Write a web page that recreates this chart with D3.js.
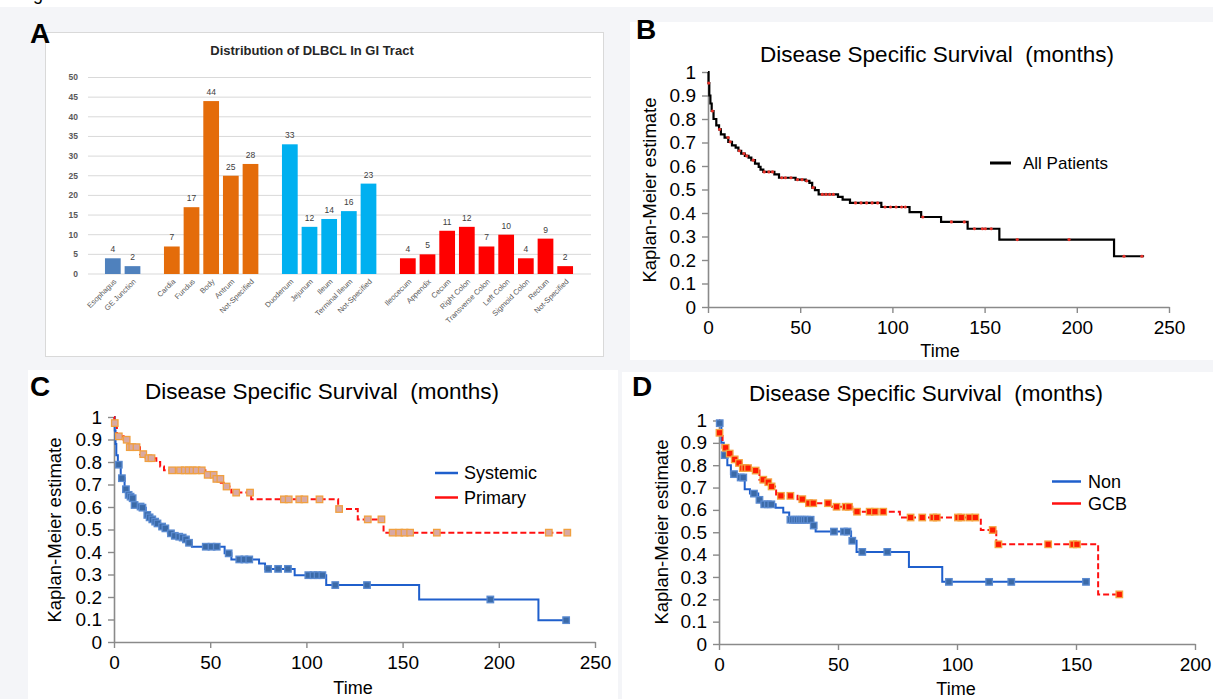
<!DOCTYPE html>
<html>
<head>
<meta charset="utf-8">
<script src="https://cdn.jsdelivr.net/npm/d3@7"></script>
<style>
  html, body { margin: 0; padding: 0; background: #ffffff; }
  svg { display: block; }
  text { font-family: "Liberation Sans", Arial, sans-serif; }
</style>
</head>
<body>
<svg id="fig" width="1213" height="699"></svg>
<script>
// ---------- Panel A: DLBCL sites along the GI tract ----------
const siteLabels = ["Esophagus", "GE Junction", "",
  "Cardia", "Fundus", "Body", "Antrum", "Not-Specified", "",
  "Duodenum", "Jejunum", "Ileum", "Terminal Ileum", "Not-Specified", "",
  "Ileocecum", "Appendix", "Cecum", "Right Colon", "Transverse Colon", "Left Colon",
  "Sigmoid Colon", "Rectum", "Not-Specified"];
const siteCounts = [4, 2, null,
  7, 17, 44, 25, 28, null,
  33, 12, 14, 16, 23, null,
  4, 5, 11, 12, 7, 10, 4, 9, 2];
const siteRegions = ["esophagus", "esophagus", null,
  "stomach", "stomach", "stomach", "stomach", "stomach", null,
  "small", "small", "small", "small", "small", null,
  "large", "large", "large", "large", "large", "large", "large", "large", "large"];
const countTicks = [0, 5, 10, 15, 20, 25, 30, 35, 40, 45, 50];

// ---------- Panel B: all patients ----------
const allTimes = [0, 0.3, 0.7, 1.3, 2, 3, 4.5, 6, 7, 9,
  11, 13, 15, 16.5, 18, 20, 22, 23.5, 25.5, 27.5,
  28.5, 30, 36, 38.5, 47.5, 53, 55, 56.5, 58, 60,
  70.5, 73, 77, 94, 109.3, 115.6, 126.4, 140.8, 158, 220.2];
const allSurv = [1, 0.953, 0.90, 0.866, 0.834, 0.80, 0.773, 0.756, 0.735, 0.721,
  0.703, 0.688, 0.678, 0.665, 0.653, 0.643, 0.636, 0.625, 0.61, 0.596,
  0.585, 0.575, 0.564, 0.55, 0.542, 0.537, 0.528, 0.508, 0.497, 0.479,
  0.469, 0.457, 0.443, 0.4255, 0.404, 0.383, 0.362, 0.333, 0.287, 0.216];
const allEnd = 236.5;
const allCensor = [0.4, 2.4, 6.3, 10.9, 12, 17, 19.5, 21, 24.5, 30.5, 33, 35, 40, 42, 45,
  48.5, 51, 53.5, 57, 62, 64, 66, 68, 80, 83, 86, 89, 92, 96, 99, 102, 105, 107,
  116.5, 132, 139, 144.5, 148.8, 150.4, 153.6, 167.7, 195.8, 225.6, 235.3];

// ---------- Panel C: systemic vs primary ----------
const sysTimes = [0, 0.4, 0.8, 1.2, 2, 3.5, 5.5, 7, 8, 9,
  10.2, 12, 14.3, 16.5, 18, 19.5, 21, 22, 24, 26,
  28, 31, 33, 35, 37, 38.5, 40.5, 57.5, 61, 75.4,
  78.5, 93.9, 110.3, 158.6, 220.6];
const sysSurv = [1, 0.94, 0.88, 0.83, 0.788, 0.728, 0.679, 0.654, 0.646, 0.639,
  0.609, 0.602, 0.597, 0.565, 0.554, 0.545, 0.535, 0.527, 0.513, 0.505,
  0.483, 0.472, 0.468, 0.464, 0.456, 0.441, 0.4235, 0.394, 0.367, 0.349,
  0.325, 0.297, 0.253, 0.189, 0.097];
const sysEnd = 235;
const sysCensor = [2.5, 4.1, 6.2, 7.6, 8.6, 9.7, 10.7, 13.8, 14.8, 17.3, 18.5, 19.9, 21.4,
  22.6, 25, 26.7, 29.6, 31.6, 33.9, 35.7, 37.4, 39, 47.7, 50.7, 53.4, 59.6, 65.1, 67.8,
  70.3, 80.1, 85.3, 90.4, 101, 103.7, 105.8, 108.3, 115, 131.5, 195.6, 235];

const primTimes = [0, 0.2, 1.5, 5, 7.5, 13.5, 16.5, 22, 24, 26,
  47.5, 52.5, 55.5, 57, 61, 71.3, 116.5, 126.7, 140.1];
const primSurv = [1, 0.973, 0.914, 0.899, 0.866, 0.835, 0.817, 0.80, 0.78, 0.763,
  0.743, 0.725, 0.708, 0.691, 0.664, 0.634, 0.591, 0.545, 0.486];
const primEnd = 235.6;
const primCensor = [0.4, 2.5, 6.6, 8.2, 9.5, 11.7, 15.2, 17.9, 19.5, 30.2, 34.3, 36.8, 38.8,
  40.9, 42.9, 45.6, 48.7, 51.8, 53.2, 55.3, 58.5, 63.5, 70.7, 88.3, 90.8, 96.3, 99, 106.8,
  117, 131.9, 139, 144.8, 148.3, 151, 153.9, 167.8, 226, 235.6];

// ---------- Panel D: non-GCB vs GCB ----------
const nonTimes = [0, 0.1, 1, 2, 3.5, 5, 8, 10.8, 13, 16.5,
  18, 23.8, 27, 29.5, 39.5, 40.6, 55.5, 57.8, 79.8, 93.8];
const nonSurv = [1, 0.988, 0.90, 0.845, 0.80, 0.76, 0.745, 0.692, 0.673, 0.645,
  0.625, 0.61, 0.588, 0.556, 0.53, 0.503, 0.462, 0.412, 0.345, 0.278];
const nonEnd = 154.2;
const nonCensor = [0.3, 2.4, 6.3, 9.1, 10.2, 14.7, 17, 19, 20.5, 22, 30, 31, 32, 33, 34, 35,
  36, 37, 38.5, 39.8, 48.3, 52.5, 54, 56, 60.2, 70.7, 96.6, 113.5, 122.8, 154.2];

const gcbTimes = [0, 0.1, 1.5, 3.5, 5.5, 7.5, 9.5, 14, 17, 19.5,
  21, 24, 33, 36, 47.5, 56, 76, 110, 116.5, 159.3];
const gcbSurv = [1, 0.945, 0.878, 0.852, 0.826, 0.81, 0.787, 0.776, 0.735, 0.724,
  0.705, 0.663, 0.648, 0.63, 0.614, 0.592, 0.566, 0.51, 0.446, 0.222];
const gcbEnd = 168.2;
const gcbCensor = [0.2, 2.8, 4.5, 6.6, 8.4, 10, 11, 12.2, 15.4, 18.6, 20.7, 22.1, 26, 30, 35,
  37.8, 39.6, 45.8, 49.4, 53.2, 54.6, 58, 63.3, 65.5, 69, 80.5, 85.4, 90, 91.5, 100.4, 101.8,
  105.2, 107.7, 115, 117.4, 138.3, 148.8, 150.4, 168.2];

const survTicks = [0, 0.1, 0.2, 0.3, 0.4, 0.5, 0.6, 0.7, 0.8, 0.9, 1];
const timeTicks250 = [0, 50, 100, 150, 200, 250];
const timeTicks200 = [0, 50, 100, 150, 200];

// ---------- drawing ----------
const svg = d3.select("#fig");

// page backdrop and panel cards
svg.append("rect").attr("x", 0).attr("y", 7).attr("width", 1213).attr("height", 692).attr("fill", "#f4f5f8");
svg.append("text").attr("x", 18).attr("y", 0).attr("font-size", 18).attr("fill", "#000").text("Figure 1");
svg.append("rect").attr("x", 630).attr("y", 22).attr("width", 583).attr("height", 338).attr("fill", "#fff");
svg.append("rect").attr("x", 28).attr("y", 370).attr("width", 590).attr("height", 329).attr("fill", "#fff");
svg.append("rect").attr("x", 622).attr("y", 372).attr("width", 591).attr("height", 327).attr("fill", "#fff");
svg.append("rect").attr("x", 45.5).attr("y", 32.5).attr("width", 558).attr("height", 324)
  .attr("fill", "#fff").attr("stroke", "#d9d9d9").attr("stroke-width", 1);

// panel letters
[["A", 30, 43], ["B", 636, 39], ["C", 30, 396], ["D", 632, 396]].forEach(([t, x, y]) => {
  svg.append("text").attr("x", x).attr("y", y).attr("font-size", 28).attr("font-weight", "bold")
    .attr("fill", "#000").text(t);
});

// ----- Panel A -----
(function drawBars() {
  const g = svg.append("g");
  const colors = { esophagus: "#4f81bd", stomach: "#e46c0a", small: "#00b0f0", large: "#ff0000" };
  const x = d3.scaleBand().domain(d3.range(siteLabels.length)).range([103, 575])
    .paddingInner(0.2).paddingOuter(0.1);
  const y = d3.scaleLinear().domain([0, 50]).range([274, 77.5]);

  g.append("text").attr("x", 312).attr("y", 55).attr("text-anchor", "middle")
    .attr("font-size", 13).attr("font-weight", "bold").attr("fill", "#262626")
    .text("Distribution of DLBCL In GI Tract");

  g.selectAll("line.grid").data(countTicks).join("line").attr("class", "grid")
    .attr("x1", 88).attr("x2", 591).attr("y1", d => y(d)).attr("y2", d => y(d))
    .attr("stroke", "#d9d9d9").attr("stroke-width", 1);
  g.selectAll("text.ytick").data(countTicks).join("text").attr("class", "ytick")
    .attr("x", 78).attr("y", d => y(d)).attr("dy", "0.35em").attr("text-anchor", "end")
    .attr("font-size", 8.5).attr("font-weight", "bold").attr("fill", "#595959").text(d => d);

  const idx = d3.range(siteLabels.length).filter(i => siteCounts[i] != null);
  g.selectAll("rect.bar").data(idx).join("rect").attr("class", "bar")
    .attr("x", i => x(i)).attr("width", x.bandwidth())
    .attr("y", i => y(siteCounts[i])).attr("height", i => y(0) - y(siteCounts[i]))
    .attr("fill", i => colors[siteRegions[i]]);
  g.selectAll("text.val").data(idx).join("text").attr("class", "val")
    .attr("x", i => x(i) + x.bandwidth() / 2).attr("y", i => y(siteCounts[i]) - 6)
    .attr("text-anchor", "middle").attr("font-size", 8.5).attr("fill", "#404040")
    .text(i => siteCounts[i]);
  g.selectAll("text.cat").data(idx).join("text").attr("class", "cat")
    .attr("transform", i => `translate(${x(i) + x.bandwidth() / 2 + 4},${y(0) + 8}) rotate(-45)`)
    .attr("text-anchor", "end").attr("font-size", 7.5).attr("fill", "#595959")
    .text(i => siteLabels[i]);
})();

// ----- Kaplan-Meier panels -----
function survAt(times, surv, t) {
  return surv[Math.max(0, d3.bisectRight(times, t) - 1)];
}

function kmPanel(opt) {
  const g = svg.append("g");
  const x = d3.scaleLinear().domain(opt.xDomain).range(opt.xRange);
  const y = d3.scaleLinear().domain([0, 1]).range(opt.yRange);

  g.append("text").attr("x", opt.titleX).attr("y", opt.titleY).attr("text-anchor", "middle")
    .attr("font-size", 22.5).attr("fill", "#000").attr("xml:space", "preserve")
    .style("white-space", "pre").text("Disease Specific Survival  (months)");

  const ax = g.append("g").attr("transform", `translate(0,${opt.yRange[0]})`)
    .call(d3.axisBottom(x).tickValues(opt.xTicks).tickSize(6).tickSizeOuter(0).tickPadding(8));
  const ay = g.append("g").attr("transform", `translate(${opt.xRange[0]},0)`)
    .call(d3.axisLeft(y).tickValues(survTicks).tickSize(6).tickSizeOuter(0).tickPadding(6)
      .tickFormat(d3.format("~g")));
  [ax, ay].forEach(a => {
    a.select(".domain").attr("stroke", "#8a8a8a").attr("stroke-width", 1.6);
    a.selectAll(".tick line").attr("stroke", "#8a8a8a").attr("stroke-width", 1.4);
    a.selectAll(".tick text").attr("font-size", 19).attr("fill", "#000")
      .attr("font-family", "'Liberation Sans', Arial, sans-serif");
  });

  g.append("text").attr("x", opt.timeX).attr("y", opt.timeY).attr("text-anchor", "middle")
    .attr("font-size", 18).attr("fill", "#000").text("Time");
  g.append("text").attr("transform", `translate(${opt.ylabX},${opt.ylabY}) rotate(-90)`)
    .attr("text-anchor", "middle").attr("font-size", 18.5).attr("fill", "#000")
    .text("Kaplan-Meier estimate");

  const line = d3.line().x(d => x(d[0])).y(d => y(d[1])).curve(d3.curveStepAfter);
  opt.series.forEach(s => {
    const pts = s.times.map((t, i) => [t, s.surv[i]]);
    pts.push([s.end, s.surv[s.surv.length - 1]]);
    g.append("path").attr("d", line(pts)).attr("fill", "none")
      .attr("stroke", s.color).attr("stroke-width", s.width)
      .attr("stroke-dasharray", s.dash || null);
  });
  opt.series.forEach(s => {
    const mk = g.append("g");
    if (s.marker === "dot") {
      mk.selectAll("circle").data(s.censor).join("circle")
        .attr("cx", t => x(t)).attr("cy", t => y(survAt(s.times, s.surv, t)))
        .attr("r", 1.6).attr("fill", "#e8322a");
    } else {
      const sz = 6.5;
      mk.selectAll("rect").data(s.censor).join("rect")
        .attr("x", t => x(t) - sz / 2).attr("y", t => y(survAt(s.times, s.surv, t)) - sz / 2)
        .attr("width", sz).attr("height", sz)
        .attr("fill", s.markFill).attr("stroke", s.markStroke).attr("stroke-width", 1.3);
    }
  });

  opt.legend.forEach(l => {
    g.append("line").attr("x1", l.x1).attr("x2", l.x2).attr("y1", l.y).attr("y2", l.y)
      .attr("stroke", l.color).attr("stroke-width", l.width);
    g.append("text").attr("x", l.tx).attr("y", l.y).attr("dy", "0.35em")
      .attr("font-size", l.size).attr("fill", "#000").text(l.label);
  });
}

kmPanel({
  xDomain: [0, 250], xRange: [708, 1169], yRange: [307, 72], xTicks: timeTicks250,
  titleX: 937, titleY: 62, timeX: 940, timeY: 357, ylabX: 656, ylabY: 190,
  series: [{ times: allTimes, surv: allSurv, end: allEnd, censor: allCensor,
    color: "#000", width: 2.2, marker: "dot" }],
  legend: [{ x1: 990, x2: 1011, y: 163, tx: 1023, size: 17, color: "#000", width: 3, label: "All Patients" }]
});

kmPanel({
  xDomain: [0, 250], xRange: [114, 595], yRange: [642, 417], xTicks: timeTicks250,
  titleX: 322, titleY: 399, timeX: 353, timeY: 694, ylabX: 61, ylabY: 530,
  series: [
    { times: sysTimes, surv: sysSurv, end: sysEnd, censor: sysCensor, color: "#1f5fcc", width: 2,
      marker: "square", markFill: "#3b6aa8", markStroke: "#5a8ad0" },
    { times: primTimes, surv: primSurv, end: primEnd, censor: primCensor, color: "#ff1010", width: 2,
      dash: "6,3", marker: "square", markFill: "#d9a9a3", markStroke: "#f0a040" }
  ],
  legend: [
    { x1: 435, x2: 458, y: 473, tx: 464, size: 18, color: "#1f5fcc", width: 2.5, label: "Systemic" },
    { x1: 435, x2: 458, y: 497.5, tx: 464, size: 18, color: "#ff1010", width: 2.5, label: "Primary" }
  ]
});

kmPanel({
  xDomain: [0, 200], xRange: [719, 1195], yRange: [644, 420.5], xTicks: timeTicks200,
  titleX: 926, titleY: 401, timeX: 956, timeY: 694.5, ylabX: 668, ylabY: 532,
  series: [
    { times: nonTimes, surv: nonSurv, end: nonEnd, censor: nonCensor, color: "#1f5fcc", width: 2,
      marker: "square", markFill: "#3b6aa8", markStroke: "#5a8ad0" },
    { times: gcbTimes, surv: gcbSurv, end: gcbEnd, censor: gcbCensor, color: "#ff1010", width: 2,
      dash: "6,3", marker: "square", markFill: "#ff1a00", markStroke: "#f4a340" }
  ],
  legend: [
    { x1: 1052, x2: 1081, y: 481.5, tx: 1088, size: 18, color: "#1f5fcc", width: 2.5, label: "Non" },
    { x1: 1052, x2: 1081, y: 503.5, tx: 1088, size: 18, color: "#ff1010", width: 2.5, label: "GCB" }
  ]
});
</script>
</body>
</html>
